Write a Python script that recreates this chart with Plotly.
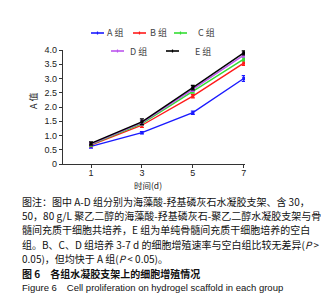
import plotly.graph_objects as go

days = [1, 3, 5, 7]
group_names = ["A 组", "B 组", "C 组", "D 组", "E 组"]
group_colors = ["#1a1aff", "#ff1a1a", "#33dd33", "#bb55ee", "#000000"]
values_A = [0.62, 1.10, 1.80, 3.00]
values_B = [0.66, 1.36, 2.38, 3.54]
values_C = [0.68, 1.42, 2.55, 3.68]
values_D = [0.70, 1.45, 2.62, 3.82]
values_E = [0.72, 1.48, 2.68, 3.90]
err_A = [0.06, 0.04, 0.06, 0.10]
err_B = [0.05, 0.08, 0.06, 0.08]
err_C = [0.05, 0.06, 0.06, 0.06]
err_D = [0.05, 0.08, 0.07, 0.07]
err_E = [0.06, 0.10, 0.08, 0.07]
y_ticks = [0, 0.5, 1.0, 1.5, 2.0, 2.5, 3.0, 3.5, 4.0]
y_tick_text = ["0", "0.5", "1.0", "1.5", "2.0", "2.5", "3.0", "3.5", "4.0"]
x_title = "时间(d)"
y_title = "A 值"
caption_lines = [
    "图注：图中 A-D 组分别为海藻酸-羟基磷灰石水凝胶支架、含 30，",
    "50，80 g/L 聚乙二醇的海藻酸-羟基磷灰石-聚乙二醇水凝胶支架与骨",
    "髓间充质干细胞共培养，E 组为单纯骨髓间充质干细胞培养的空白",
    "组。B、C、D 组培养 3-7 d 的细胞增殖速率与空白组比较无差异(<i>P</i> >",
    "0.05)，但均快于 A 组(<i>P</i> < 0.05)。",
]
fig_title_cn = "图 6　各组水凝胶支架上的细胞增殖情况"
fig_title_en = "Figure 6　Cell proliferation on hydrogel scaffold in each group"

series = [values_A, values_B, values_C, values_D, values_E]
errors = [err_A, err_B, err_C, err_D, err_E]

W, H = 329, 300
L, R, T, B = 55, 92, 42, 144
PW, PH = W - L - R, H - T - B

def px(x):
    return (x - L) / PW

def py(y):
    return (H - B - y) / PH

fig = go.Figure()
for name, col, vals, errs in zip(group_names, group_colors, series, errors):
    fig.add_trace(go.Scatter(
        x=days, y=vals, mode="lines+markers", name=name,
        line=dict(color=col, width=1.4),
        marker=dict(color=col, size=3, symbol="square"),
        error_y=dict(type="data", array=errs, color=col, thickness=1.2, width=2),
        showlegend=False,
    ))

font_cn = "Noto Sans CJK SC, Liberation Sans, Arial"
annotations = []
shapes = []

# manual legend
legend_pos = [(83, 25, 97), (125, 25, 140), (166, 25, 188), (103, 43, 120), (158, 43, 185)]
for (lx, ly, tx), name, col in zip(legend_pos, group_names, group_colors):
    shapes.append(dict(type="line", xref="paper", yref="paper",
                       x0=px(lx), x1=px(lx + 13), y0=py(ly), y1=py(ly),
                       line=dict(color=col, width=1.6)))
    shapes.append(dict(type="line", xref="paper", yref="paper",
                       x0=px(lx + 6.5), x1=px(lx + 6.5), y0=py(ly - 1.5), y1=py(ly + 1.5),
                       line=dict(color=col, width=1.2)))
    annotations.append(dict(x=px(tx), y=py(ly), xref="paper", yref="paper",
                            text=name, showarrow=False, xanchor="left", yanchor="middle",
                            font=dict(size=9, color="#444444", family=font_cn)))

annotations.append(dict(x=px(140), y=py(177), xref="paper", yref="paper", text=x_title,
                        showarrow=False, xanchor="center", yanchor="middle",
                        font=dict(size=8.5, color="#222222", family=font_cn)))
annotations.append(dict(x=px(25), y=py(93), xref="paper", yref="paper", text=y_title,
                        showarrow=False, xanchor="center", yanchor="middle", textangle=-90,
                        font=dict(size=9, color="#222222", family=font_cn)))

line_y = [193, 207, 221, 236, 250]
for yy, t in zip(line_y, caption_lines):
    annotations.append(dict(x=px(12), y=py(yy), xref="paper", yref="paper", text=t,
                            showarrow=False, xanchor="left", yanchor="middle",
                            font=dict(size=10, color="#111111", family=font_cn)))
annotations.append(dict(x=px(12), y=py(265), xref="paper", yref="paper",
                        text="<b>" + fig_title_cn + "</b>",
                        showarrow=False, xanchor="left", yanchor="middle",
                        font=dict(size=10, color="#111111", family=font_cn)))
annotations.append(dict(x=px(12), y=py(279), xref="paper", yref="paper", text=fig_title_en,
                        showarrow=False, xanchor="left", yanchor="middle",
                        font=dict(size=9.5, color="#111111", family="Liberation Sans, Arial")))

fig.update_layout(
    width=W, height=H,
    margin=dict(l=L, r=R, t=T, b=B, pad=0),
    paper_bgcolor="white", plot_bgcolor="white",
    shapes=shapes, annotations=annotations,
    xaxis=dict(range=[-0.1, 7.05], tickvals=days, ticktext=[str(d) for d in days],
               showgrid=False, zeroline=False, showline=True, linecolor="#333333", linewidth=1.2,
               ticks="outside", ticklen=3, tickcolor="#333333", tickwidth=1.2,
               ticklabelstandoff=-3,
               tickfont=dict(size=9, color="#222222", family="Liberation Sans, Arial")),
    yaxis=dict(range=[0, 4.0], tickvals=y_ticks, ticktext=y_tick_text,
               showgrid=False, zeroline=False, showline=True, linecolor="#333333", linewidth=1.2,
               ticks="outside", ticklen=3, tickcolor="#333333", tickwidth=1.2,
               tickfont=dict(size=9, color="#222222", family="Liberation Sans, Arial")),
)
fig.write_html("out.html")
